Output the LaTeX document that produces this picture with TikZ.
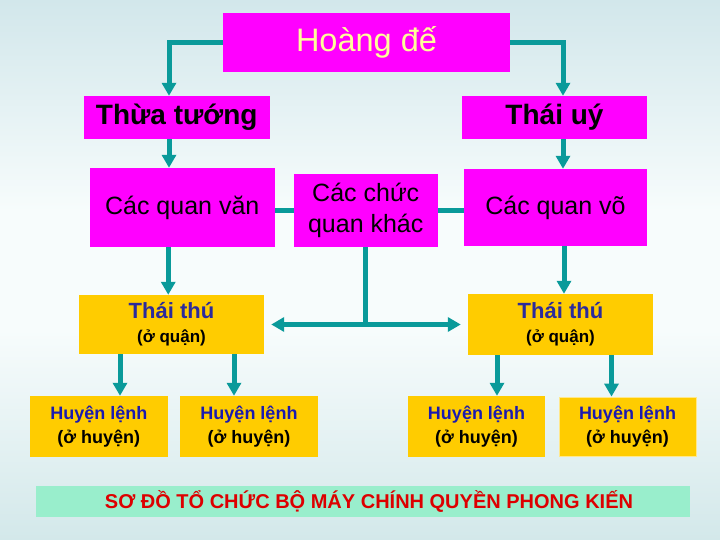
\documentclass[tikz,border=0pt]{standalone}
\usepackage{fontspec}
\setmainfont{Liberation Sans}
\usetikzlibrary{arrows.meta}
\definecolor{mag}{HTML}{FF00FF}
\definecolor{gold}{HTML}{FFCC00}
\definecolor{teal2}{HTML}{0A9A9A}
\definecolor{navyt}{HTML}{2B2B9C}
\definecolor{bluet}{HTML}{1A1AB0}
\definecolor{titlered}{HTML}{DD0000}
\definecolor{mint}{HTML}{99EECC}
\definecolor{lightyel}{HTML}{FFFF99}
\definecolor{bgtop}{HTML}{D2E7EB}
\definecolor{bgmid}{HTML}{F7FCFC}
\definecolor{bgbot}{HTML}{D3E8EA}
\begin{document}
\begin{tikzpicture}[x=1pt,y=-1pt,
  box/.style={fill=mag, inner sep=0pt, align=center},
  ybox/.style={fill=gold, inner sep=0pt, align=center},
  conn/.style={draw=teal2, line width=5pt},
  arr/.style={conn, -{Triangle[width=14pt,length=13pt]}},
  darr/.style={conn, {Triangle[width=14pt,length=13pt]}-{Triangle[width=14pt,length=13pt]}},
  ttfont/.style={font=\bfseries\fontsize{17}{24}\selectfont},
  hlfont/.style={font=\bfseries\fontsize{18}{23.5}\selectfont},
]
\useasboundingbox (0,0) rectangle (720,540);
\shade[top color=bgtop, bottom color=bgmid] (0,0) rectangle (720,211);
\fill[bgmid] (0,210) rectangle (720,331);
\shade[top color=bgmid, bottom color=bgbot] (0,330) rectangle (720,540);

\node[box, minimum width=287pt, minimum height=59pt, text=lightyel, font=\fontsize{32.5}{36}\selectfont] (hoang) at (366.5,42.5) {Hoàng đế};
\node[box, minimum width=185.5pt, minimum height=43pt, font=\bfseries\fontsize{28}{32}\selectfont] (thua) at (176.75,117.5) {Thừa tướng};
\node[box, minimum width=185pt, minimum height=43pt, font=\bfseries\fontsize{28}{32}\selectfont] (thaiuy) at (554.5,117.5) {Thái uý};

\node[box, minimum width=184.5pt, minimum height=79pt, font=\fontsize{25}{28}\selectfont] (van) at (182.25,207.5) {Các quan văn};
\node[box, minimum width=143.5pt, minimum height=73pt, font=\fontsize{25}{31}\selectfont] (khac) at (365.75,210.5) {Các chức\\quan khác};
\node[box, minimum width=183pt, minimum height=77pt, font=\fontsize{25}{28}\selectfont] (vo) at (555.5,207.5) {Các quan võ};

\node[ybox, minimum width=185pt, minimum height=59pt, ttfont] (tt1) at (171.5,324.5) {{\color{navyt}\fontsize{22}{24}\selectfont Thái thú}\\(ở quận)};
\node[ybox, minimum width=185pt, minimum height=61pt, ttfont] (tt2) at (560.5,324.5) {{\color{navyt}\fontsize{22}{24}\selectfont Thái thú}\\(ở quận)};

\node[ybox, minimum width=137.6pt, minimum height=61pt, hlfont] (hl1) at (98.8,426.5) {{\color{bluet}Huyện lệnh}\\(ở huyện)};
\node[ybox, minimum width=138pt, minimum height=61pt, hlfont] (hl2) at (249,426.5) {{\color{bluet}Huyện lệnh}\\(ở huyện)};
\node[ybox, minimum width=137pt, minimum height=61pt, hlfont] (hl3) at (476.5,426.5) {{\color{bluet}Huyện lệnh}\\(ở huyện)};
\node[ybox, draw=white!55!gold, line width=0.8pt, minimum width=137pt, minimum height=59pt, hlfont] (hl4) at (627.5,426.5) {{\color{bluet}Huyện lệnh}\\(ở huyện)};

\node[fill=mint, inner sep=0pt, minimum width=654pt, minimum height=31pt, text=titlered, font=\bfseries\fontsize{20}{22}\selectfont] (banner) at (363,501.5) {\hspace*{12pt}SƠ ĐỒ TỔ CHỨC BỘ MÁY CHÍNH QUYỀN PHONG KIẾN};

\draw[arr] (hoang.west) -| ([xshift=-7.75pt]thua.north);
\draw[arr] (hoang.east) -| ([xshift=8.5pt]thaiuy.north);
\draw[arr] ([xshift=-7.75pt]thua.south) -- ([xshift=-7.75pt]thua.south |- van.north);
\draw[arr] ([xshift=8.5pt]thaiuy.south) -- ([xshift=8.5pt]thaiuy.south |- vo.north);
\draw[conn] (khac.west) -- (khac.west -| van.east);
\draw[conn] (khac.east) -- (khac.east -| vo.west);
\draw[arr] ([xshift=-14pt]van.south) -- ([xshift=-14pt]van.south |- tt1.north);
\draw[arr] ([xshift=8.5pt]vo.south) -- ([xshift=8.5pt]vo.south |- tt2.north);
\coordinate (mid) at (khac.south |- tt1.center);
\draw[conn] (khac.south) -- (mid);
\draw[darr] ([xshift=7pt]tt1.east |- mid) -- ([xshift=-7pt]tt2.west |- mid);

\draw[arr] ([xshift=-51.5pt]tt1.south) -- ([xshift=-51.5pt]tt1.south |- hl1.north);
\draw[arr] ([xshift=62.5pt]tt1.south) -- ([xshift=62.5pt]tt1.south |- hl2.north);
\draw[arr] ([xshift=-63.5pt]tt2.south) -- ([xshift=-63.5pt]tt2.south |- hl3.north);
\draw[arr] ([xshift=51pt]tt2.south) -- ([xshift=51pt]tt2.south |- hl4.north);
\end{tikzpicture}
\end{document}
